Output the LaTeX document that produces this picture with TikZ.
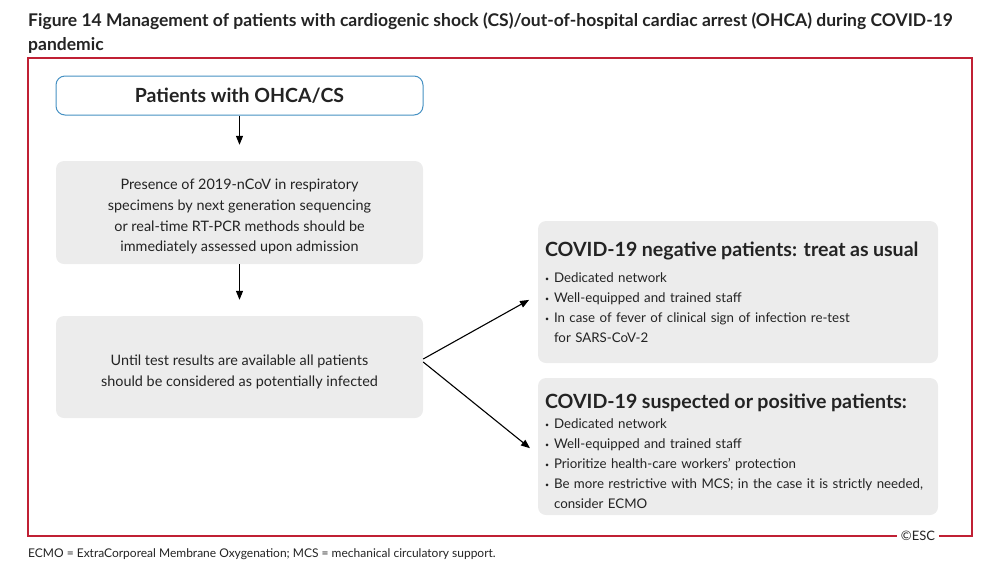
\documentclass[tikz,border=0pt]{standalone}
\usepackage{fontspec}
\setmainfont{Lato}
\usepackage{tikz}
\usetikzlibrary{positioning,arrows.meta}
\definecolor{framered}{RGB}{192,32,52}
\definecolor{boxblue}{RGB}{70,145,195}
\definecolor{boxgray}{RGB}{236,236,236}
\definecolor{inkdark}{RGB}{35,35,35}
\newcommand{\blt}{\makebox[9pt][l]{\raisebox{1pt}{\scriptsize\textbullet}}}
\newcommand{\cnt}{\hspace*{9pt}}

\begin{document}
\begin{tikzpicture}[x=1pt,y=-1pt,
  gbox/.style={fill=boxgray,rounded corners=8pt,align=center,text=inkdark,
               font=\fontsize{14.4}{20.7}\selectfont,minimum width=367pt,minimum height=103pt},
  rbox/.style={fill=boxgray,rounded corners=8pt,align=left,text=inkdark,text width=386pt,
               inner xsep=7pt,inner ysep=1pt,font=\fontsize{13.3}{20}\selectfont,minimum height=140pt},
  arr/.style={-{Triangle[length=9pt,width=7pt]},line width=1.1pt,color=black}]
  \useasboundingbox (0,0) rectangle (1000,574);
  % title
  \node[anchor=north west,align=left,inner sep=0pt,text=inkdark,
        font=\fontsize{17.5}{24}\selectfont\bfseries] (title) at (28,13)
        {Figure 14 Management of patients with cardiogenic shock (CS)/out-of-hospital cardiac arrest (OHCA) during COVID-19\\ pandemic};
  % frame
  \node[font=\fontsize{13}{14}\selectfont,text=inkdark,inner sep=4pt] (esc) at (918,536) {\textcopyright ESC};
  \draw[framered,line width=1.5pt] (esc.west) -- (28,536) -- (28,58) -- (972,58) -- (972,536) -- (esc.east);
  % left column
  \node[draw=boxblue,line width=1pt,rounded corners=9pt,fill=white,minimum width=367pt,
        minimum height=39pt,font=\fontsize{19.5}{22}\selectfont\bfseries,text=inkdark] (pat) at (239.5,95.5) {Patients with OHCA/CS};
  \node[gbox] (test) at (239.5,212.5) {\rule{0pt}{19pt}Presence of 2019-nCoV in respiratory\\ specimens by next generation sequencing\\ or real-time RT-PCR methods should be\\ immediately assessed upon admission};
  \node[gbox,minimum height=102pt] (wait) at (239.5,367) {\rule{0pt}{20pt}Until test results are available all patients\\ should be considered as potentially infected};
  % right column
  \node[rbox,minimum height=142pt] (neg) at (738,292) {{\fontsize{19.6}{22}\selectfont\bfseries COVID-19 negative patients: treat as usual\par}\vspace{6pt}
    \blt Dedicated network\\
    \blt Well-equipped and trained staff\\
    \blt In case of fever of clinical sign of infection re-test\\
    \cnt for SARS-CoV-2};
  \node[rbox,minimum height=137pt] (pos) at (738,446.5) {{\fontsize{19.6}{22}\selectfont\bfseries\rule{0pt}{24pt}COVID-19 suspected or positive patients:\par}
    \blt Dedicated network\\
    \blt Well-equipped and trained staff\\
    \blt Prioritize health-care workers' protection\\
    \blt Be more restrictive with MCS; in the case it is strictly needed,\\
    \cnt consider ECMO};
  % connectors
  \draw[arr,shorten >=16pt] (pat) -- (test);
  \draw[arr,shorten >=16pt] (test) -- (wait);
  \draw[arr,shorten >=10pt] ([yshift=8pt]wait.east) -- ([yshift=-3pt]neg.west);
  \draw[arr,shorten >=10pt] ([yshift=5pt]wait.east) -- ([yshift=-8pt]pos.west);
  % footnote
  \node[anchor=base west,inner sep=0pt,text=inkdark,font=\fontsize{12}{13}\selectfont] (note) at (28,557)
        {ECMO = ExtraCorporeal Membrane Oxygenation; MCS = mechanical circulatory support.};
\end{tikzpicture}
\end{document}
